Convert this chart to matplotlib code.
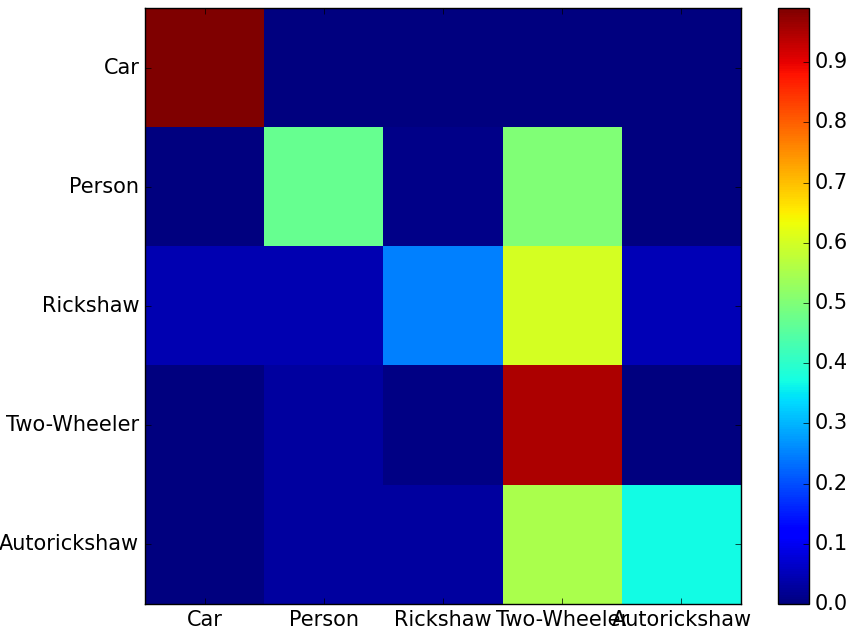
import numpy as np
import matplotlib
matplotlib.use("Agg")
import matplotlib.pyplot as plt

classes = ["Car", "Person", "Rickshaw", "Two-Wheeler", "Autorickshaw"]

# normalised confusion matrix, rows = true class
row_car = [0.99, 0.0, 0.0, 0.0, 0.0]
row_person = [0.0, 0.47, 0.01, 0.50, 0.0]
row_rickshaw = [0.045, 0.045, 0.25, 0.60, 0.05]
row_twowheeler = [0.0, 0.03, 0.005, 0.95, 0.0]
row_autorickshaw = [0.0, 0.03, 0.03, 0.55, 0.37]

cm = np.array([row_car, row_person, row_rickshaw, row_twowheeler, row_autorickshaw])

plt.style.use("classic")
plt.rcParams["font.size"] = 15
fig = plt.figure(figsize=(8.5, 6.32), dpi=100)
ax = fig.add_axes([145/850, 1 - 604/632, 596/850, 596/632])
cax = fig.add_axes([778/850, 1 - 604/632, 31/850, 596/632])

im = ax.imshow(cm, interpolation="nearest", cmap="jet", aspect="auto")
ax.set_xticks(np.arange(len(classes)))
ax.set_xticklabels(classes, fontsize=15)
ax.set_yticks(np.arange(len(classes)))
ax.set_yticklabels(classes, fontsize=15)

cb = fig.colorbar(im, cax=cax)
cb.set_ticks(np.arange(0, 1.0, 0.1))
cb.ax.set_yticklabels(["%.1f" % t for t in np.arange(0, 1.0, 0.1)], fontsize=15)

fig.savefig("out.png", dpi=100)
